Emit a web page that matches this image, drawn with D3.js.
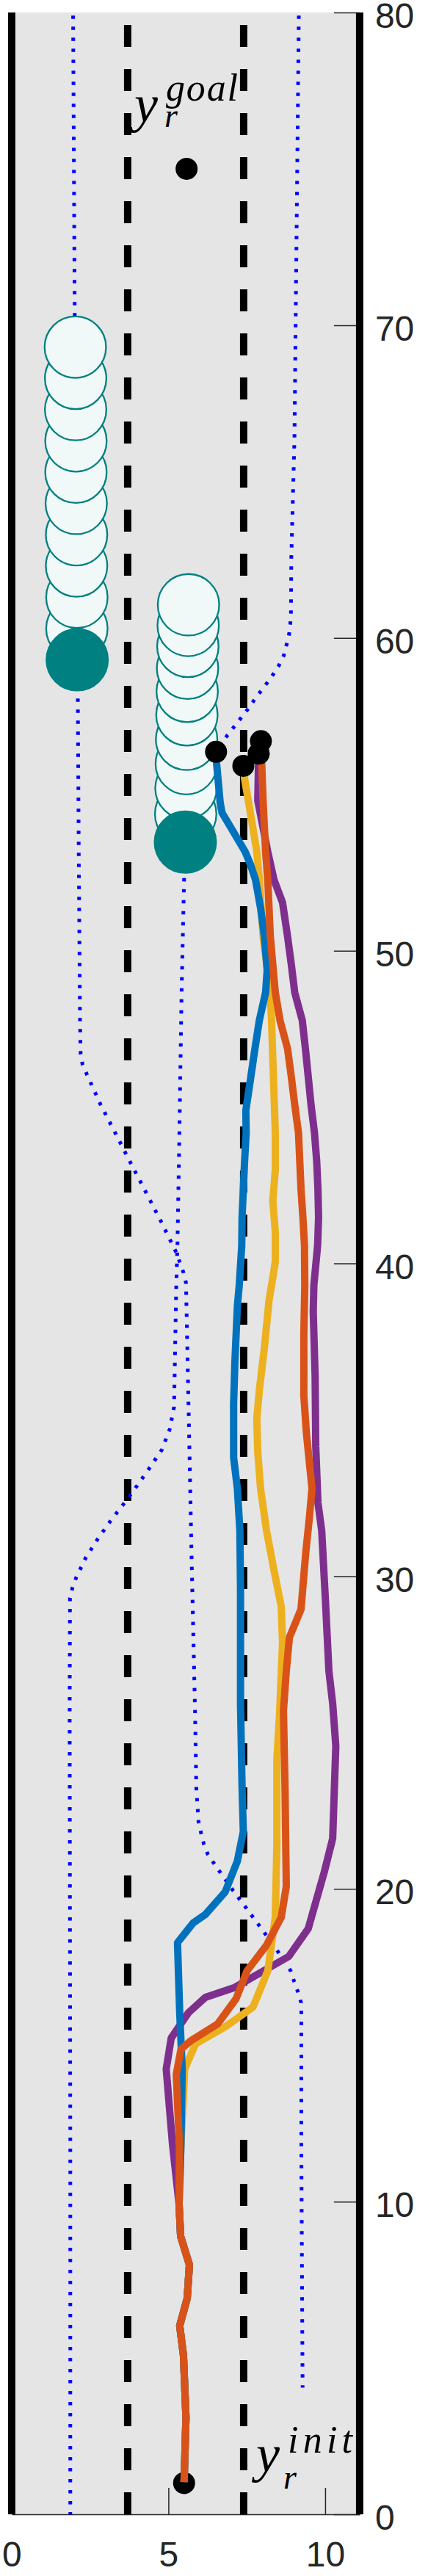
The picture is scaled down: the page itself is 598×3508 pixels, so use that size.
<!DOCTYPE html>
<html>
<head>
<meta charset="utf-8">
<script src="https://cdn.jsdelivr.net/npm/d3@7"></script>
<style>
  html, body { margin: 0; padding: 0; background: #fff; }
  svg { display: block; }
</style>
</head>
<body>
<svg id="chart"></svg>
<script>
// axis ticks and road geometry (metres)
const xTicks = [0, 5, 10];
const yTicks = [0, 10, 20, 30, 40, 50, 60, 70, 80];
const roadEdges = [0, 11.1];
const laneMarks = [3.7, 7.4];

const initPoint = [5.5, 1.0];
const goalPoint = [5.58, 75];

// common start of all runs
const sharedStart = [[5.50, 1.03], [5.56, 3.09], [5.48, 5.08], [5.36, 6.03], [5.60, 6.91], [5.67, 7.98], [5.39, 8.89], [5.34, 9.92]];

const runBlue = [[5.40, 11.83], [5.44, 14.24], [5.36, 16.04], [5.29, 18.28], [5.79, 18.91], [6.18, 19.18], [6.81, 19.9], [7.20, 20.89], [7.39, 21.83], [7.35, 23.23], [7.30, 25.92], [7.30, 27.86], [7.30, 29.65], [7.28, 31.45], [7.20, 32.8], [7.08, 33.79], [7.08, 35.5], [7.12, 36.84], [7.20, 38.64], [7.26, 39.3], [7.34, 40.58], [7.35, 41.48], [7.39, 42.37], [7.43, 43.27], [7.48, 44.17], [7.47, 44.89], [7.63, 45.97], [7.76, 46.87], [7.90, 47.77], [8.10, 48.66], [8.15, 49.38], [8.06, 50.46], [7.94, 51.36], [7.78, 52.26], [7.62, 52.75], [7.45, 53.16], [6.71, 54.41], [6.65, 54.74], [6.53, 56.07], [6.52, 56.36]];

const runOrange = [[5.35, 11.83], [5.25, 14.06], [5.40, 14.87], [5.71, 15.14], [6.57, 15.68], [7.16, 16.49], [7.51, 17.38], [8.13, 18.2], [8.60, 19.09], [8.76, 20.08], [8.72, 23.23], [8.67, 25.7], [8.76, 26.96], [8.86, 28.04], [9.23, 28.94], [9.38, 30.74], [9.50, 31.9], [9.58, 32.8], [9.40, 34.6], [9.32, 35.77], [9.32, 37.74], [9.35, 39.3], [9.34, 40.58], [9.29, 41.48], [9.23, 42.37], [9.19, 43.27], [9.15, 44.17], [9.03, 45.07], [8.92, 45.97], [8.80, 46.87], [8.56, 47.77], [8.41, 48.66], [8.33, 49.56], [8.25, 50.46], [8.21, 51.36], [8.17, 52.26], [8.10, 53.16], [8.02, 54.8], [7.95, 56.7]];

const runYellow = [[5.40, 11.83], [5.52, 14.24], [5.87, 15.05], [6.81, 15.59], [7.70, 16.22], [8.17, 17.38], [8.41, 19.09], [8.46, 21.43], [8.46, 24.12], [8.55, 25.7], [8.64, 27.86], [8.60, 29.02], [8.35, 30.28], [8.13, 31.45], [7.94, 32.8], [7.85, 33.97], [7.82, 35.05], [7.90, 35.94], [8.06, 37.29], [8.21, 38.82], [8.33, 39.54], [8.41, 40.05], [8.41, 41.0], [8.33, 42.0], [8.41, 43.0], [8.41, 44.17], [8.35, 45.97], [8.29, 47.77], [8.23, 48.84], [8.02, 50.46], [7.90, 52.3], [7.82, 53.16], [7.60, 54.5], [7.43, 55.5], [7.39, 55.91]];

const runPurple = [[5.13, 11.83], [4.93, 14.24], [5.09, 15.23], [5.64, 16.04], [6.18, 16.53], [7.12, 16.85], [8.84, 17.84], [9.46, 18.73], [9.97, 20.53], [10.24, 21.61], [10.34, 24.57], [10.24, 25.92], [10.12, 26.96], [10.01, 29.2], [9.89, 31.45], [9.77, 32.35], [9.70, 34.15], [9.68, 36.39], [9.62, 38.46], [9.64, 39.3], [9.76, 40.58], [9.79, 41.48], [9.77, 42.37], [9.73, 43.27], [9.66, 44.17], [9.55, 45.07], [9.46, 45.97], [9.37, 46.87], [9.27, 47.77], [9.03, 48.66], [8.92, 49.56], [8.80, 50.46], [8.64, 51.54], [8.37, 52.26], [8.17, 53.16], [7.85, 54.8], [7.88, 56.3]];

// reference paths of the two obstacles (dotted)
const obstaclePathA = [[1.96, 79.9], [2.01, 70.5], [2.06, 65.0], [2.11, 58.2], [2.14, 53.07], [2.18, 47.77], [2.20, 46.69], [2.26, 46.36], [2.40, 46.04], [2.84, 45.07], [3.32, 44.14], [3.80, 43.2], [4.29, 42.26], [4.78, 41.31], [5.25, 40.35], [5.48, 39.71], [5.56, 39.38], [5.65, 35.05], [5.74, 30.56], [5.85, 25.63], [5.89, 23.23], [5.96, 22.15], [6.04, 21.79], [6.13, 21.43], [6.25, 21.12], [6.45, 20.82], [6.65, 20.53], [7.06, 19.95], [7.48, 19.39], [7.90, 18.82], [8.11, 18.53], [8.51, 17.97], [8.90, 17.38], [9.01, 17.04], [9.13, 16.71], [9.23, 16.37], [9.24, 16.04], [9.24, 11.83], [9.28, 4.05]];

const obstaclePathB = [[9.16, 79.9], [9.02, 66.35], [8.92, 62.55], [8.91, 60.83], [8.89, 60.48], [8.85, 60.12], [8.77, 59.79], [8.68, 59.44], [8.53, 59.13], [8.34, 58.83], [8.13, 58.54], [7.92, 58.26], [7.72, 57.99], [7.51, 57.69], [7.29, 57.41], [7.08, 57.14], [6.86, 56.86], [6.20, 56.0], [5.70, 54.8], [5.52, 53.3], [5.50, 52.28], [5.42, 48.66], [5.35, 44.17], [5.29, 40.67], [5.25, 39.27], [5.18, 35.41], [5.11, 35.05], [5.04, 34.69], [4.79, 34.04], [4.40, 33.46], [4.00, 32.89], [3.58, 32.32], [3.15, 31.76], [2.74, 31.18], [2.37, 30.6], [2.06, 29.96], [1.94, 29.63], [1.86, 29.3], [1.85, 25.45], [1.87, 12.0], [1.87, 0]];

// obstacles: predicted positions (open) and current position (filled)
const obstacle1Pred = [[2.03, 69.3], [2.04, 68.3], [2.04, 67.3], [2.05, 66.3], [2.05, 65.3], [2.06, 64.3], [2.07, 63.3], [2.07, 62.3], [2.08, 61.3], [2.08, 60.3]];
const obstacle1Now = [2.09, 59.3];
const obstacle2Pred = [[5.64, 61.06], [5.63, 60.40], [5.62, 59.73], [5.61, 59.03], [5.60, 58.29], [5.59, 57.54], [5.58, 56.76], [5.57, 55.98], [5.56, 55.19], [5.55, 54.37]];
const obstacle2Now = [5.54, 53.47];
const obstacleRadius = 0.98;

const W = 598, H = 3508;

const svg = d3.select('#chart').attr('width', W).attr('height', H);
svg.append('rect').attr('width', W).attr('height', H).attr('fill', '#fff');

const x = d3.scaleLinear().domain([0, 11.1]).range([15.9, 489.9]);
const y = d3.scaleLinear().domain([0, 80]).range([3424, 17]);
const px = (d) => x(d[0]);
const py = (d) => y(d[1]);
const line = d3.line().x(px).y(py);

// background of the road
svg.append('rect')
  .attr('x', x(0)).attr('y', y(80))
  .attr('width', x(11.1) - x(0)).attr('height', y(0) - y(80))
  .attr('fill', '#e5e5e5');

// axes (x at the bottom, y on the right, ticks pointing in)
const axisX = d3.axisBottom(x).tickValues(xTicks).tickSizeInner(-36).tickSizeOuter(0).tickPadding(37);
const axisY = d3.axisRight(y).tickValues(yTicks).tickSizeInner(-35).tickSizeOuter(0).tickPadding(21);

const gx = svg.append('g').attr('transform', `translate(0,${y(0)})`).call(axisX);
const gy = svg.append('g').attr('transform', `translate(${x(11.1)},0)`).call(axisY);
gy.selectAll('text').attr('dy', '0.43em');

[gx, gy].forEach((g) => {
  g.attr('font-family', '"Liberation Sans", Arial, sans-serif').attr('font-size', 48);
  g.selectAll('path.domain').attr('stroke', '#262626').attr('stroke-width', 1.5);
  g.selectAll('.tick line').attr('stroke', '#262626').attr('stroke-width', 1.5);
  g.selectAll('.tick text').attr('fill', '#262626');
});

// road edges
svg.selectAll('.edge').data(roadEdges).enter().append('line')
  .attr('class', 'edge')
  .attr('x1', (d) => x(d)).attr('x2', (d) => x(d))
  .attr('y1', y(0)).attr('y2', y(80))
  .attr('stroke', '#000').attr('stroke-width', 10);

// lane markings, dashes start at the bottom
svg.selectAll('.lane').data(laneMarks).enter().append('line')
  .attr('class', 'lane')
  .attr('x1', (d) => x(d)).attr('x2', (d) => x(d))
  .attr('y1', y(0)).attr('y2', y(80))
  .attr('stroke', '#000').attr('stroke-width', 10)
  .attr('stroke-dasharray', '30 30');

// dotted reference paths of the obstacles
[obstaclePathA, obstaclePathB].forEach((p) => {
  svg.append('path')
    .attr('d', line(p))
    .attr('fill', 'none')
    .attr('stroke', '#0000ff')
    .attr('stroke-width', 5)
    .attr('stroke-dasharray', '4.5 10.5');
});

// obstacle predictions, drawn from the current position upwards
function drawObstacle(pred, now) {
  const g = svg.append('g');
  g.selectAll('circle').data(pred.slice().reverse()).enter().append('circle')
    .attr('cx', px).attr('cy', py)
    .attr('r', x(obstacleRadius) - x(0))
    .attr('fill', '#f0f8f8')
    .attr('stroke', '#008080')
    .attr('stroke-width', 2.3);
  g.append('circle')
    .attr('cx', px(now)).attr('cy', py(now))
    .attr('r', x(obstacleRadius) - x(0))
    .attr('fill', '#008080')
    .attr('stroke', '#008080')
    .attr('stroke-width', 2.3);
}
drawObstacle(obstacle1Pred, obstacle1Now);
drawObstacle(obstacle2Pred, obstacle2Now);

// start point sits under the runs
svg.append('circle').attr('cx', px(initPoint)).attr('cy', py(initPoint)).attr('r', 15).attr('fill', '#000');

const runs = [
  { pts: runPurple, color: '#7E2F8E' },
  { pts: runYellow, color: '#EDB120' },
  { pts: runBlue, color: '#0072BD' },
  { pts: runOrange, color: '#D95319' },
];

runs.forEach((r) => {
  svg.append('path')
    .attr('d', line(sharedStart.concat(r.pts)))
    .attr('fill', 'none')
    .attr('stroke', r.color)
    .attr('stroke-width', 10)
    .attr('stroke-linejoin', 'round');
});

// end of each run and the goal
svg.selectAll('.end').data(runs.map((r) => r.pts[r.pts.length - 1]).concat([goalPoint]))
  .enter().append('circle')
  .attr('class', 'end')
  .attr('cx', px).attr('cy', py)
  .attr('r', 15).attr('fill', '#000');

// labels y_r^goal and y_r^init
function label(xp, base, sup, supLen, supBase, subX, subBase) {
  const g = svg.append('g')
    .attr('font-family', '"Liberation Serif", "Times New Roman", serif')
    .attr('font-style', 'italic')
    .attr('fill', '#000');
  g.append('text').attr('x', xp).attr('y', base).attr('font-size', 72).text('y');
  g.append('text').attr('x', xp + 43).attr('y', supBase).attr('font-size', 52)
    .attr('textLength', supLen).attr('lengthAdjust', 'spacing').text(sup);
  g.append('text').attr('x', subX).attr('y', subBase).attr('font-size', 46).text('r');
}
label(183, 166, 'goal', 98, 137, 224, 173);
label(349, 3366, 'init', 88, 3340, 386, 3389);
</script>
</body>
</html>
